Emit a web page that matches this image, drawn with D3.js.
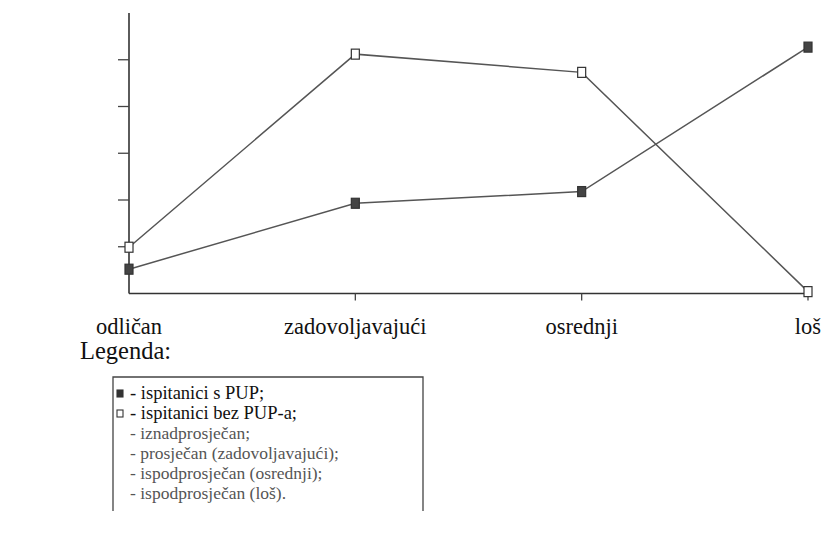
<!DOCTYPE html>
<html>
<head>
<meta charset="utf-8">
<script src="https://cdn.jsdelivr.net/npm/d3@7"></script>
<style>
  body { margin: 0; background: #fff; font-family: "Liberation Serif", serif; }
  #chart text { font-family: "Liberation Serif", serif; }
</style>
</head>
<body>
<svg id="chart" width="822" height="537"></svg>
<script>
var categories = ["odličan", "zadovoljavajući", "osrednji", "loš"],
    withPUP = [0.52, 1.93, 2.18, 5.27],
    withoutPUP = [0.99, 5.12, 4.73, 0.04],
    yTicks = [1, 2, 3, 4, 5],
    legendItems = [
        {marker: "filled", text: "- ispitanici s PUP;"},
        {marker: "open", text: "- ispitanici bez PUP-a;"},
        {marker: null, text: "- iznadprosječan;"},
        {marker: null, text: "- prosječan (zadovoljavajući);"},
        {marker: null, text: "- ispodprosječan (osrednji);"},
        {marker: null, text: "- ispodprosječan (loš)."}
    ]

var svg = d3.select("#chart")

var x = d3.scalePoint().domain(categories).range([129, 808])
var y = d3.scaleLinear().domain([0, 6]).range([293.5, 13])

// axes
svg.append("line")
    .attr("x1", 129).attr("x2", 129)
    .attr("y1", y(6)).attr("y2", y(0))
    .attr("stroke", "#333").attr("stroke-width", 1.6)

svg.append("line")
    .attr("x1", 129).attr("x2", 810)
    .attr("y1", y(0)).attr("y2", y(0))
    .attr("stroke", "#333").attr("stroke-width", 1.6)

svg.selectAll(".ytick").data(yTicks).enter().append("line")
    .attr("x1", 118).attr("x2", 129)
    .attr("y1", function(d) { return y(d) })
    .attr("y2", function(d) { return y(d) })
    .attr("stroke", "#444").attr("stroke-width", 1.3)

svg.selectAll(".xtick").data(categories.slice(1)).enter().append("line")
    .attr("x1", function(d) { return x(d) })
    .attr("x2", function(d) { return x(d) })
    .attr("y1", y(0)).attr("y2", y(0) + 7)
    .attr("stroke", "#444").attr("stroke-width", 1.3)

svg.selectAll(".xlabel").data(categories).enter().append("text")
    .attr("x", function(d) { return x(d) })
    .attr("y", 334)
    .attr("text-anchor", "middle")
    .style("font-size", "22.5px")
    .attr("fill", "#111")
    .text(function(d) { return d })

// series
var line = d3.line()
    .x(function(d, i) { return x(categories[i]) })
    .y(function(d) { return y(d) })

function series(values, filled) {
    svg.append("path")
        .attr("d", line(values))
        .attr("fill", "none")
        .attr("stroke", "#555")
        .attr("stroke-width", 1.5)

    svg.selectAll(null).data(values).enter().append("rect")
        .attr("x", function(d, i) { return x(categories[i]) - 4 })
        .attr("y", function(d) { return y(d) - 5 })
        .attr("width", 8).attr("height", 10)
        .attr("fill", filled ? "#444" : "#fff")
        .attr("stroke", "#333")
        .attr("stroke-width", 1.2)
}

series(withoutPUP, false)
series(withPUP, true)

// legend
svg.append("text")
    .attr("x", 80).attr("y", 359)
    .style("font-size", "24.5px")
    .attr("fill", "#111")
    .text("Legenda:")

svg.append("path")
    .attr("d", "M113,511V377H423V511")
    .attr("fill", "none")
    .attr("stroke", "#444")
    .attr("stroke-width", 1.3)

var rows = svg.selectAll(".lg").data(legendItems).enter().append("g")
    .attr("transform", function(d, i) { return "translate(0," + (399 + i * 20) + ")" })

rows.filter(function(d) { return d.marker }).append("rect")
    .attr("x", 117).attr("y", -9)
    .attr("width", 6).attr("height", 7)
    .attr("fill", function(d) { return d.marker == "filled" ? "#333" : "#fff" })
    .attr("stroke", "#333").attr("stroke-width", 1.1)

rows.append("text")
    .attr("x", 130).attr("y", 0)
    .style("font-size", function(d) { return d.marker ? "18.5px" : "17.5px" })
    .attr("fill", function(d) { return d.marker ? "#111" : "#555" })
    .text(function(d) { return d.text })
</script>
</body>
</html>
